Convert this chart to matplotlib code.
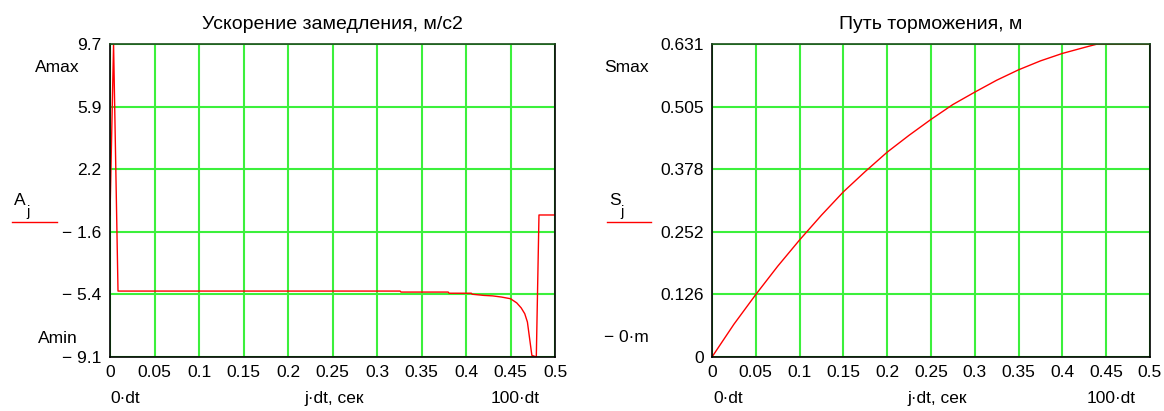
import numpy as np
import matplotlib.pyplot as plt

plt.rcParams['font.family'] = ['Liberation Sans', 'DejaVu Sans']

# time, s (j*dt)
t_acc = [0.0, 0.004, 0.009, 0.05, 0.1, 0.2, 0.3, 0.326, 0.327, 0.38, 0.381,
         0.406, 0.407, 0.42, 0.43, 0.44, 0.45, 0.457, 0.462, 0.466, 0.469,
         0.474, 0.479, 0.482, 0.5]
# deceleration, m/s^2
acc = [-0.57, 9.7, -5.14, -5.14, -5.14, -5.14, -5.14, -5.14, -5.2, -5.2, -5.27,
       -5.27, -5.33, -5.4, -5.43, -5.5, -5.6, -5.85, -6.15, -6.5, -7.0,
       -9.0, -9.1, -0.57, -0.57]

t_path = [0.0, 0.025, 0.05, 0.075, 0.1, 0.125, 0.15, 0.175, 0.2, 0.225, 0.25,
          0.275, 0.3, 0.325, 0.35, 0.375, 0.4, 0.425, 0.44, 0.45, 0.5]
path = [0.0, 0.066, 0.126, 0.183, 0.236, 0.286, 0.333, 0.374, 0.413, 0.447,
        0.479, 0.509, 0.534, 0.558, 0.579, 0.597, 0.612, 0.624, 0.631, 0.631,
        0.631]

acc_labels = ['\u2212 9.1', '\u2212 5.4', '\u2212 1.6', '2.2', '5.9', '9.7']
path_labels = ['0', '0.126', '0.252', '0.378', '0.505', '0.631']
x_ticks = np.arange(0, 0.5001, 0.05)
x_labels = ['0', '0.05', '0.1', '0.15', '0.2', '0.25', '0.3', '0.35', '0.4', '0.45', '0.5']

W, H = 1164, 411
fig = plt.figure(figsize=(W / 100, H / 100), dpi=100)
FS = 12.5
TFS = 14
grid_c = '#3cf03c'


def make_axes(x0, x1, y0, y1):
    ax = fig.add_axes([x0 / W, 1 - y1 / H, (x1 - x0) / W, (y1 - y0) / H])
    for s in ax.spines.values():
        s.set_color('black')
        s.set_linewidth(1.2)
    ax.spines['top'].set_color('#1a4d1a')
    ax.set_xlim(0, 0.5)
    ax.set_xticks(x_ticks)
    ax.set_xticklabels(x_labels)
    ax.tick_params(length=0, labelsize=FS, pad=6)
    ax.grid(True, color=grid_c, linewidth=1.5)
    ax.set_axisbelow(True)
    return ax


def pixel_text(x, y, s, size=FS, **kw):
    fig.text(x / W, 1 - y / H, s, fontsize=size, va='center', **kw)


def legend_line(x0, x1, y):
    fig.add_artist(plt.Line2D([x0 / W, x1 / W], [1 - y / H, 1 - y / H],
                              color='red', linewidth=1))


# left chart
ax1 = make_axes(110, 555, 44, 357)
ax1.plot(t_acc, acc, color='red', linewidth=1)
ax1.set_ylim(-9.1, 9.7)
ax1.set_yticks(np.linspace(-9.1, 9.7, 6))
ax1.set_yticklabels(acc_labels)
ax1.set_title('Ускорение замедления, м/с2', fontsize=TFS, pad=11)

pixel_text(35, 68, 'Amax')
pixel_text(38, 338, 'Amin')
pixel_text(14, 200, 'A')
pixel_text(26, 212, 'j', size=FS - 2)
legend_line(12, 57, 222)
pixel_text(110, 398, '0\u00b7dt')
pixel_text(334, 398, 'j\u00b7dt, сек', ha='center')
pixel_text(540, 398, '100\u00b7dt', ha='right')

# right chart
ax2 = make_axes(712, 1150, 44, 357)
ax2.plot(t_path, path, color='red', linewidth=1)
ax2.set_ylim(0, 0.631)
ax2.set_yticks(np.linspace(0, 0.631, 6))
ax2.set_yticklabels(path_labels)
ax2.set_title('Путь торможения, м', fontsize=TFS, pad=11)

pixel_text(604, 68, 'Smax')
pixel_text(604, 337, '\u2212 0\u00b7m')
pixel_text(609, 200, 'S')
pixel_text(620, 212, 'j', size=FS - 2)
legend_line(607, 651, 222)
pixel_text(713, 398, '0\u00b7dt')
pixel_text(937, 398, 'j\u00b7dt, сек', ha='center')
pixel_text(1136, 398, '100\u00b7dt', ha='right')

fig.savefig('out.png', dpi=100)
